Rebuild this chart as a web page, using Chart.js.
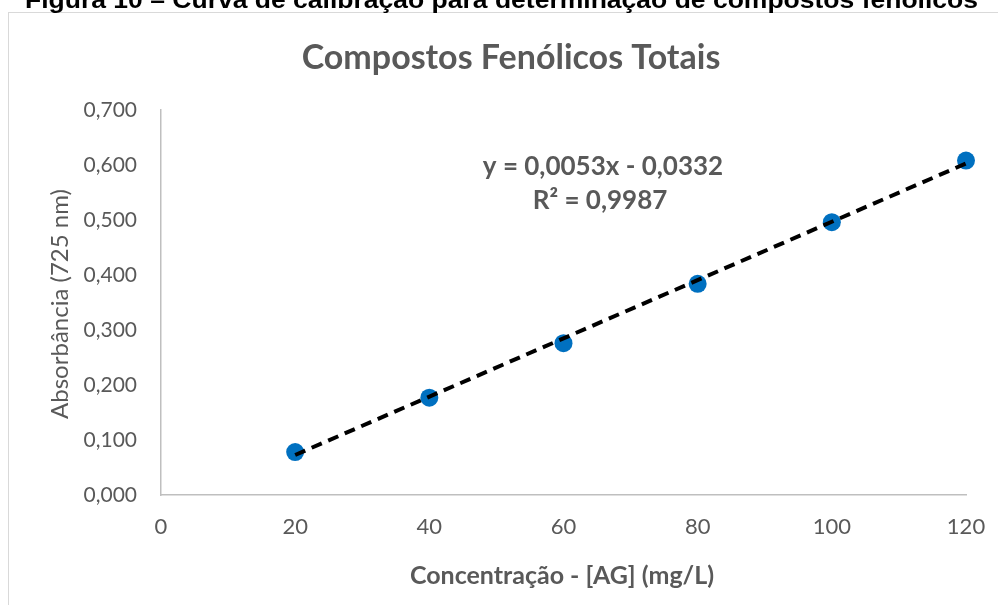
<!DOCTYPE html>
<html>
<head>
<meta charset="utf-8">
<script src="https://cdn.jsdelivr.net/npm/chart.js@4.4.1/dist/chart.umd.min.js"></script>
<style>
  html, body { margin: 0; padding: 0; background: #fff; }
  #wrap { width: 998px; height: 605px; position: relative; overflow: hidden; }
  canvas { display: block; }
</style>
</head>
<body>
<div id="wrap"><canvas id="c" width="998" height="605"></canvas></div>
<script>
// Calibration standards: gallic acid concentration (mg/L) and absorbance at 725 nm
const concentrations = [20, 40, 60, 80, 100, 120];
const absorbances = [0.078, 0.177, 0.276, 0.384, 0.496, 0.608];

// Axis ticks
const xTickValues = [0, 20, 40, 60, 80, 100, 120];
const yTickValues = [0, 0.1, 0.2, 0.3, 0.4, 0.5, 0.6, 0.7];

// Linear fit reported on the chart
const trendSlope = 0.0053;
const trendIntercept = -0.0332;
const trendR2 = 0.9987;

// Texts
const captionText = 'Figura 10 – Curva de calibração para determinação de compostos fenólicos';
const chartTitle = 'Compostos Fenólicos Totais';
const xAxisTitle = 'Concentração - [AG] (mg/L)';
const yAxisTitle = 'Absorbância (725 nm)';

const fmtDec = (v, d) => v.toFixed(d).replace('.', ',');
const equationLine = 'y = ' + fmtDec(trendSlope, 4) + 'x - ' + fmtDec(Math.abs(trendIntercept), 4);
const r2Line = 'R² = ' + fmtDec(trendR2, 4);

const trendX = [concentrations[0], concentrations[concentrations.length - 1]];
const trendPoints = trendX.map(x => ({ x: x, y: trendSlope * x + trendIntercept }));
const scatterPoints = concentrations.map((x, i) => ({ x: x, y: absorbances[i] }));

const TEXT = '#595959';
const FONT = 'Lato, "Open Sans", sans-serif';

const decorations = {
  id: 'decorations',
  beforeDraw(chart) {
    const ctx = chart.ctx;
    ctx.save();
    ctx.fillStyle = '#fff';
    ctx.fillRect(0, 0, chart.width, chart.height);
    ctx.strokeStyle = '#d9d9d9';
    ctx.lineWidth = 1;
    ctx.strokeRect(8.5, 12.5, 1200, 800);
    ctx.restore();
  },
  afterDraw(chart) {
    const ctx = chart.ctx;
    ctx.save();
    // figure caption (partly above the page edge)
    ctx.fillStyle = '#000';
    ctx.font = 'bold 23px "Liberation Sans", Arial, sans-serif';
    ctx.textAlign = 'left';
    ctx.textBaseline = 'alphabetic';
    const cw = ctx.measureText(captionText).width;
    ctx.save();
    ctx.translate(25, 8);
    ctx.scale(953 / cw, 1);
    ctx.fillText(captionText, 0, 0);
    ctx.restore();

    ctx.fillStyle = TEXT;
    ctx.textAlign = 'center';
    ctx.textBaseline = 'middle';
    ctx.font = 'bold 34px ' + FONT;
    ctx.fillText(chartTitle, 511, 58);

    ctx.font = 'bold 26px ' + FONT;
    ctx.fillText(equationLine, 603, 167);
    ctx.fillText(r2Line, 600, 201);

    ctx.font = 'bold 25px ' + FONT;
    ctx.fillText(xAxisTitle, 562, 576);

    ctx.font = '24px ' + FONT;
    ctx.translate(60, 304);
    ctx.rotate(-Math.PI / 2);
    ctx.fillText(yAxisTitle, 0, 0);
    ctx.restore();
  }
};

new Chart(document.getElementById('c'), {
  type: 'scatter',
  data: {
    datasets: [
      {
        type: 'line',
        data: trendPoints,
        borderColor: '#000',
        borderWidth: 4,
        borderDash: [11, 7],
        pointRadius: 0,
        fill: false,
        clip: false,
        order: 0
      },
      {
        type: 'scatter',
        data: scatterPoints,
        backgroundColor: '#0070C0',
        borderWidth: 0,
        pointRadius: 9,
        clip: false,
        order: 1
      }
    ]
  },
  options: {
    responsive: false,
    animation: false,
    events: [],
    layout: { padding: { top: 110, right: 32, left: 0, bottom: 0 } },
    plugins: { legend: { display: false }, tooltip: { enabled: false }, title: { display: false } },
    scales: {
      x: {
        type: 'linear',
        min: 0,
        max: 120,
        afterFit: s => { s.height = 110; s.paddingLeft = 0; s.paddingRight = 0; },
        afterBuildTicks: s => { s.ticks = xTickValues.map(v => ({ value: v })); },
        ticks: { color: TEXT, font: { family: FONT, size: 22 }, padding: 19, maxRotation: 0,
                 callback: v => String(v) },
        grid: { display: false, drawTicks: false },
        border: { display: true, color: '#bfbfbf', width: 1.5 }
      },
      y: {
        type: 'linear',
        min: 0,
        max: 0.7,
        afterFit: s => { s.width = 161; s.paddingTop = 0; s.paddingBottom = 0; },
        afterBuildTicks: s => { s.ticks = yTickValues.map(v => ({ value: v })); },
        ticks: { color: TEXT, font: { family: FONT, size: 21 }, padding: 24,
                 callback: v => fmtDec(v, 3) },
        grid: { display: false, drawTicks: false },
        border: { display: true, color: '#bfbfbf', width: 1.5 }
      }
    }
  },
  plugins: [decorations]
});
</script>
</body>
</html>
